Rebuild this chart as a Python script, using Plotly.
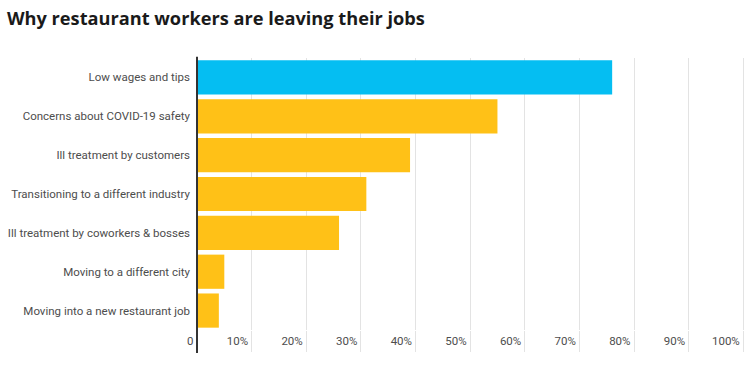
import plotly.graph_objects as go

categories = [
    "Low wages and tips",
    "Concerns about COVID-19 safety",
    "Ill treatment by customers",
    "Transitioning to a different industry",
    "Ill treatment by coworkers & bosses",
    "Moving to a different city",
    "Moving into a new restaurant job",
]
values = [76, 55, 39, 31, 26, 5, 4]
highlight = [True, False, False, False, False, False, False]
tick_vals = [0, 10, 20, 30, 40, 50, 60, 70, 80, 90, 100]
tick_text = ["0", "10%", "20%", "30%", "40%", "50%", "60%", "70%", "80%", "90%", "100%"]

BLUE = "#05BEF2"
ORANGE = "#FFC117"
colors = [BLUE if h else ORANGE for h in highlight]

fig = go.Figure(
    go.Bar(
        x=values,
        y=categories,
        orientation="h",
        marker=dict(color=colors, line=dict(width=0)),
        hoverinfo="x+y",
    )
)

fig.update_layout(
    width=750,
    height=368,
    margin=dict(l=197, r=4, t=58, b=38, autoexpand=False),
    paper_bgcolor="white",
    plot_bgcolor="white",
    bargap=0.12,
    showlegend=False,
    title=dict(
        text="<b>Why restaurant workers are leaving their jobs</b>",
        xref="container",
        x=0,
        xanchor="left",
        pad=dict(l=7),
        y=0.968,
        yanchor="top",
        font=dict(family="Open Sans, sans-serif", size=18.2, color="#1a1a1a"),
    ),
    font=dict(family="Roboto, sans-serif", size=11.5, color="#4d4d4d"),
)

fig.update_xaxes(
    range=[0, 100.5],
    tickvals=tick_vals,
    ticktext=tick_text,
    showgrid=True,
    gridcolor="#e3e3e3",
    gridwidth=1,
    zeroline=False,
    showline=False,
    ticks="outside",
    ticklen=21,
    tickcolor="#e3e3e3",
    tickwidth=1,
    ticklabelposition="outside left",
    ticklabelstandoff=0,
    ticklabelshift=-3,
    automargin=False,
    tickfont=dict(family="Roboto, sans-serif", size=11.5, color="#4d4d4d"),
    fixedrange=True,
)

fig.update_yaxes(
    autorange="reversed",
    showgrid=False,
    zeroline=False,
    showline=False,
    ticks="",
    ticklabelstandoff=6,
    automargin=False,
    tickfont=dict(family="Roboto, sans-serif", size=11.5, color="#4d4d4d"),
    fixedrange=True,
)

fig.add_shape(
    type="line",
    xref="paper",
    yref="paper",
    x0=0,
    x1=0,
    y0=-0.085,
    y1=1.005,
    line=dict(color="#333333", width=2),
)

fig.write_html(
    "out.html",
    config={"displayModeBar": False},
    post_script="document.body.style.margin='0';document.body.style.overflow='hidden';",
)
